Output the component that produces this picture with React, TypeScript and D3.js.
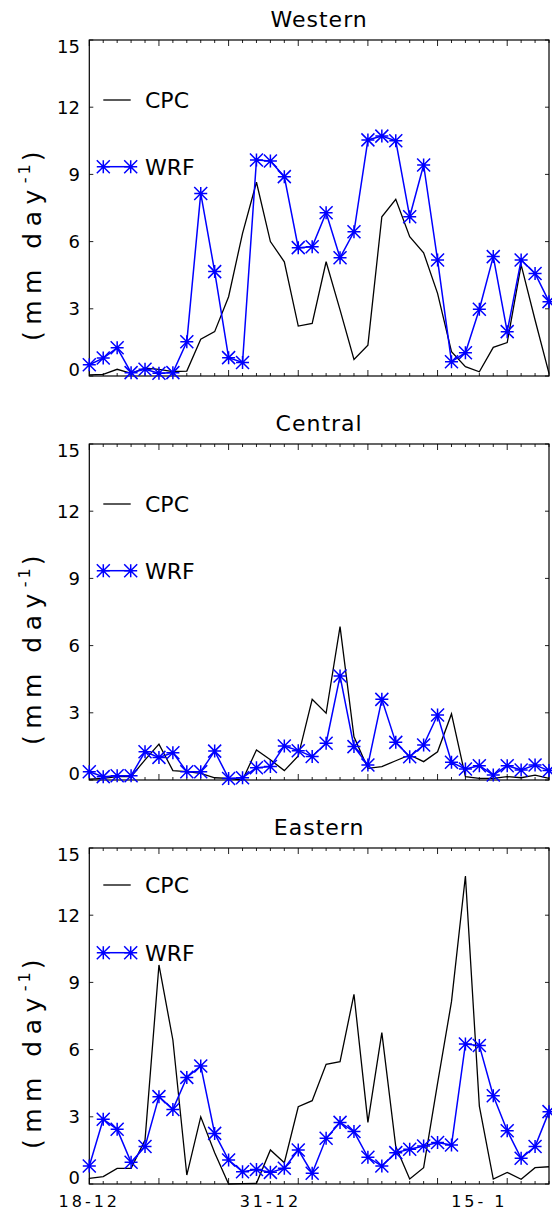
import React from "react";
import * as d3 from "d3";

const regions = ["Western", "Central", "Eastern"];

const cpcWestern = [0.05, 0.07, 0.3, 0.12, 0.35, 0.3, 0.2, 0.22, 1.64, 1.98, 3.54, 6.37, 8.65, 6.0, 5.1, 2.23, 2.35, 5.1, 2.95, 0.74, 1.38, 7.11, 7.89, 6.22, 5.5, 3.69, 1.09, 0.42, 0.19, 1.28, 1.49, 4.96, 2.5, 0.12];
const wrfWestern = [0.5, 0.8, 1.26, 0.15, 0.3, 0.12, 0.15, 1.53, 8.15, 4.66, 0.82, 0.6, 9.64, 9.6, 8.9, 5.73, 5.77, 7.29, 5.28, 6.44, 10.54, 10.71, 10.5, 7.11, 9.42, 5.18, 0.64, 1.04, 2.98, 5.33, 1.98, 5.18, 4.58, 3.32];

const cpcCentral = [0.04, 0.07, 0.15, 0.15, 0.9, 1.6, 0.42, 0.37, 0.3, 0.1, 0.07, 0.0, 1.34, 0.9, 0.42, 1.07, 3.6, 2.98, 6.85, 1.93, 0.52, 0.6, 0.86, 1.12, 0.82, 1.26, 2.95, 0.15, 0.07, 0.07, 0.15, 0.1, 0.22, 0.07];
const wrfCentral = [0.37, 0.15, 0.19, 0.19, 1.26, 1.01, 1.22, 0.37, 0.37, 1.29, 0.07, 0.1, 0.55, 0.6, 1.52, 1.31, 1.05, 1.64, 4.64, 1.49, 0.67, 3.6, 1.68, 1.04, 1.56, 2.9, 0.79, 0.49, 0.64, 0.22, 0.64, 0.45, 0.67, 0.42];

const cpcEastern = [0.25, 0.33, 0.7, 0.7, 1.96, 9.78, 6.43, 0.4, 3.0, 1.4, 0.0, 0.02, 0.03, 1.52, 0.95, 3.45, 3.72, 5.34, 5.46, 8.47, 2.75, 6.76, 1.67, 0.22, 0.73, 4.49, 8.14, 13.75, 3.48, 0.22, 0.52, 0.21, 0.73, 0.77];
const wrfEastern = [0.8, 2.89, 2.44, 0.97, 1.67, 3.9, 3.33, 4.76, 5.27, 2.26, 1.07, 0.55, 0.65, 0.52, 0.7, 1.52, 0.48, 2.04, 2.75, 2.34, 1.19, 0.8, 1.4, 1.55, 1.7, 1.85, 1.74, 6.25, 6.18, 3.94, 2.38, 1.15, 1.67, 3.23];

const cpcSeries = [cpcWestern, cpcCentral, cpcEastern];
const wrfSeries = [wrfWestern, wrfCentral, wrfEastern];

const yTicks = [0, 3, 6, 9, 12, 15];
const xLabelDays = [0, 13, 28];
const xLabels = ["18-12", "31-12", "15- 1"];
const seriesNames = ["CPC", "WRF"];

const FONT = "'DejaVu Sans', sans-serif";
const LEFT = 89.3;
const RIGHT = 549;
const PANEL_TOPS = [40, 444, 848];
const PANEL_H = 336;
const BLUE = "#0000ff";

function Star({ x, y, s = 6.5 }: { x: number; y: number; s?: number }) {
  const d = `M${x - s},${y}L${x + s},${y}M${x},${y - s}L${x},${y + s}M${x - s},${y - s}L${x + s},${y + s}M${x - s},${y + s}L${x + s},${y - s}`;
  return <path d={d} stroke={BLUE} strokeWidth={1.5} fill="none" />;
}

function Panel({ idx }: { idx: number }) {
  const top = PANEL_TOPS[idx];
  const bottom = top + PANEL_H;
  const cpc = cpcSeries[idx];
  const wrf = wrfSeries[idx];
  const x = d3.scaleLinear().domain([0, cpc.length - 1]).range([LEFT, RIGHT]);
  const y = d3.scaleLinear().domain([0, 15]).range([bottom, top]);
  const line = d3.line<number>().x((_, i) => x(i)).y((d) => y(d));
  const days = d3.range(0, cpc.length);
  const legendCpcY = idx === 2 ? top + 37 : top + 60;
  const legendWrfY = idx === 2 ? top + 104.7 : top + 126.7;
  const labelOffset = (t: number) => (t === 15 ? 7 : t === 0 ? -6 : 0);
  const midLabelY = top + 203;
  return (
    <g>
      <text x={(LEFT + RIGHT) / 2} y={top - 13} textAnchor="middle" fontFamily={FONT} fontSize={22} letterSpacing={1}>
        {regions[idx]}
      </text>
      {days.map((d) => {
        const len = d % 5 === 0 ? 6 : 3;
        return (
          <g key={"xt" + d}>
            <line x1={x(d)} x2={x(d)} y1={top} y2={top + len} stroke="#222" strokeWidth={1} />
            <line x1={x(d)} x2={x(d)} y1={bottom} y2={bottom - len} stroke="#222" strokeWidth={1} />
          </g>
        );
      })}
      {yTicks.map((t) => (
        <g key={"yt" + t}>
          <line x1={LEFT} x2={LEFT + 4} y1={y(t)} y2={y(t)} stroke="#222" strokeWidth={1} />
          <line x1={RIGHT} x2={RIGHT - 4} y1={y(t)} y2={y(t)} stroke="#222" strokeWidth={1} />
          <text x={80} y={y(t) + labelOffset(t)} dy="0.36em" textAnchor="end" fontFamily={FONT} fontSize={18}>
            {t}
          </text>
        </g>
      ))}
      <rect x={LEFT} y={top} width={RIGHT - LEFT} height={PANEL_H} fill="none" stroke="#000" strokeWidth={1.2} />
      <text
        transform={`translate(41,${midLabelY}) rotate(-90)`}
        textAnchor="middle"
        fontFamily={FONT}
        fontSize={25}
        letterSpacing={6.5}
      >
        <tspan>(mm day</tspan>
        <tspan dy={-11} fontSize={16} letterSpacing={3}>-1</tspan>
        <tspan dy={11}>)</tspan>
      </text>
      <path d={line(cpc) || ""} fill="none" stroke="#000" strokeWidth={1.3} />
      <path d={line(wrf) || ""} fill="none" stroke={BLUE} strokeWidth={1.5} />
      {wrf.map((v, i) => (
        <Star key={"s" + i} x={x(i)} y={y(v)} />
      ))}
      <line x1={103.3} x2={130.7} y1={legendCpcY} y2={legendCpcY} stroke="#000" strokeWidth={1.3} />
      <text x={145} y={legendCpcY} dy="0.36em" fontFamily={FONT} fontSize={22}>
        {seriesNames[0]}
      </text>
      <line x1={103.3} x2={130.7} y1={legendWrfY} y2={legendWrfY} stroke={BLUE} strokeWidth={1.5} />
      <Star x={103.3} y={legendWrfY} />
      <Star x={130.7} y={legendWrfY} />
      <text x={145} y={legendWrfY} dy="0.36em" fontFamily={FONT} fontSize={22}>
        {seriesNames[1]}
      </text>
      {idx === 2 &&
        xLabelDays.map((d, i) => (
          <text key={"xl" + i} x={x(d)} y={bottom + 23} textAnchor="middle" fontFamily={FONT} fontSize={16} letterSpacing={3}>
            {xLabels[i]}
          </text>
        ))}
    </g>
  );
}

export default function App() {
  return (
    <svg width={552} height={1212} style={{ position: "absolute", left: 0, top: 0, background: "#fff" }}>
      <rect x={0} y={0} width={552} height={1212} fill="#fff" />
      {[0, 1, 2].map((i) => (
        <Panel key={i} idx={i} />
      ))}
    </svg>
  );
}
